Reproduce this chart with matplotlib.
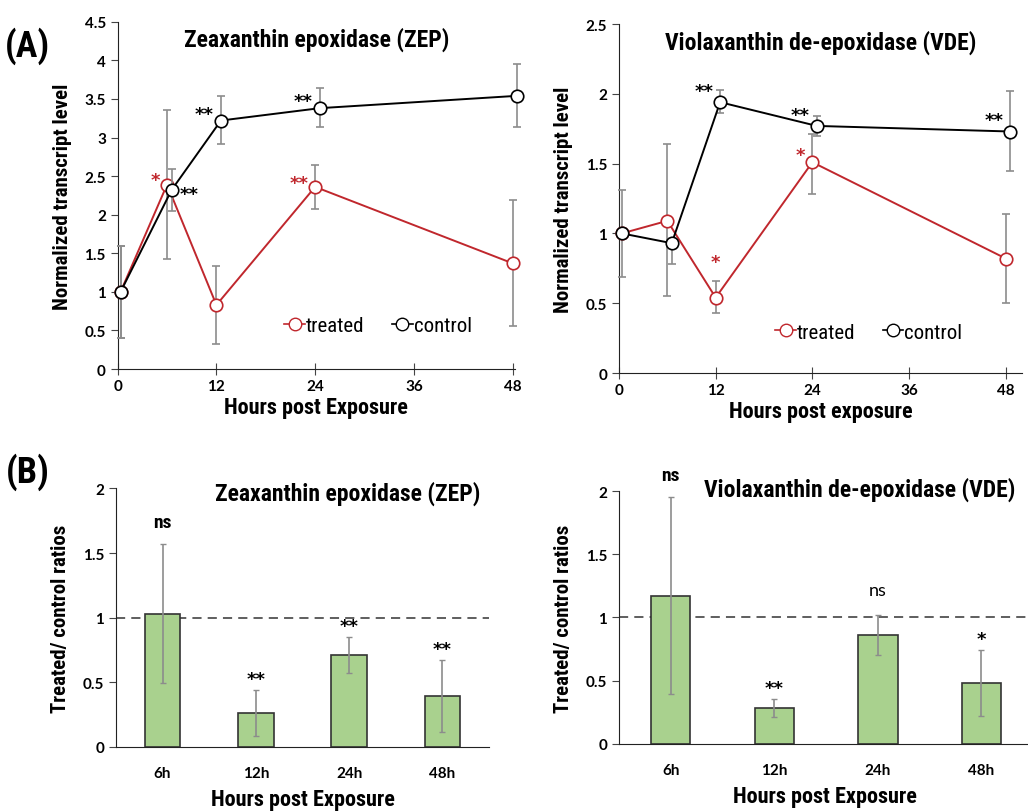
import matplotlib.pyplot as plt
from matplotlib import font_manager as fm
from matplotlib.lines import Line2D

# ---- data ----
hours = [0, 6, 12, 24, 48]

zep_treated = [1.0, 2.39, 0.83, 2.36, 1.37]
zep_treated_lo = [0.6, 0.97, 0.51, 0.28, 0.81]
zep_treated_hi = [0.6, 0.97, 0.51, 0.28, 0.82]
zep_control = [1.0, 2.32, 3.22, 3.38, 3.54]
zep_control_lo = [0.6, 0.27, 0.31, 0.25, 0.41]
zep_control_hi = [0.6, 0.27, 0.32, 0.26, 0.41]

vde_treated = [1.0, 1.09, 0.54, 1.51, 0.82]
vde_treated_lo = [0.31, 0.54, 0.11, 0.23, 0.32]
vde_treated_hi = [0.31, 0.55, 0.12, 0.20, 0.32]
vde_control = [1.0, 0.93, 1.94, 1.77, 1.73]
vde_control_lo = [0.0, 0.15, 0.08, 0.07, 0.28]
vde_control_hi = [0.0, 0.0, 0.09, 0.07, 0.29]

zep_stars_t = ['', '*', '', '**', '']
zep_stars_c = ['', '**', '**', '**', '**']
vde_stars_t = ['', '', '*', '*', '']
vde_stars_c = ['', '', '**', '**', '**']

bar_labels = ['6h', '12h', '24h', '48h']
zep_ratio = [1.03, 0.26, 0.71, 0.39]
zep_ratio_err = [0.54, 0.18, 0.14, 0.28]
zep_ratio_sig = ['ns', '**', '**', '**']
vde_ratio = [1.17, 0.28, 0.86, 0.48]
vde_ratio_err = [0.78, 0.07, 0.16, 0.26]
vde_ratio_sig = ['ns', '**', 'ns', '*']

RED = '#c0272d'
GREEN = '#a9d18e'
GREY = '#8c8c8c'

names = {f.name for f in fm.fontManager.ttflist}
cond_family = 'DejaVu Sans'
for cand in ['Roboto Condensed', 'Open Sans Condensed', 'Liberation Sans Narrow',
             'DejaVu Sans Condensed']:
    if cand in names:
        cond_family = cand
        break
COND = dict(family=cond_family, fontweight='bold')
STAR = dict(family='DejaVu Sans', fontweight='bold', fontsize=13)

plt.rcParams['font.family'] = ['Lato', 'DejaVu Sans']
plt.rcParams['font.weight'] = 'bold'
plt.rcParams['xtick.labelsize'] = 11
plt.rcParams['ytick.labelsize'] = 11

fig = plt.figure(figsize=(10.28, 8.12), dpi=100)


def style_axes(ax):
    for s in ['top', 'right']:
        ax.spines[s].set_visible(False)
    ax.spines['left'].set_color('#222222')
    ax.spines['bottom'].set_color('#222222')
    ax.tick_params(axis='y', direction='out', length=5, color='#444444')


def line_panel(rect, title, treated, t_lo, t_hi, control, c_lo, c_hi,
               ymax, yticks, xmax, xlabel, leg_xy):
    ax = fig.add_axes(rect)
    ht = [h + (0.35 if h == 0 else 0) for h in hours]
    hc = [h + (0.35 if h == 0 else 0.55) for h in hours]
    ax.errorbar(ht, treated, yerr=[t_lo, t_hi], color=RED, ecolor=GREY,
                elinewidth=1.2, capsize=3, lw=1.4, marker='o', ms=9,
                mfc='white', mec=RED, mew=1.2, zorder=3, clip_on=False)
    ax.errorbar(hc, control, yerr=[c_lo, c_hi], color='black', ecolor=GREY,
                elinewidth=1.2, capsize=3, lw=1.4, marker='o', ms=9,
                mfc='white', mec='black', mew=1.2, zorder=4, clip_on=False)
    ax.set_xlim(0, xmax)
    ax.set_ylim(0, ymax)
    ax.set_xticks([0, 12, 24, 36, 48])
    ax.set_yticks(yticks)
    ax.set_yticklabels([('%g' % v) for v in yticks])
    ax.tick_params(axis='x', direction='inout', length=8, color='#444444')
    style_axes(ax)
    ax.text(0.5, 0.95, title, transform=ax.transAxes, ha='center',
            va='center', fontsize=17, **COND)
    ax.set_xlabel(xlabel, fontsize=16, labelpad=2, **COND)
    ax.set_ylabel('Normalized transcript level', fontsize=15, labelpad=9,
                  **COND)
    handles = [Line2D([], [], color=RED, marker='o', ms=9, mfc='white',
                      mec=RED, lw=1.2),
               Line2D([], [], color='black', marker='o', ms=9, mfc='white',
                      mec='black', lw=1.2)]
    ax.legend(handles, ['treated', 'control'], loc='center',
              bbox_to_anchor=leg_xy, ncol=2, frameon=False, handlelength=1.0,
              handletextpad=0.05, columnspacing=1.3,
              prop=dict(family=cond_family, size=15, weight='normal'))
    return ax, ht, hc


# ---- panel A, ZEP ----
ax1, ht, hc = line_panel([0.1145, 0.5443, 0.3865, 0.4277],
                         'Zeaxanthin epoxidase (ZEP)',
                         zep_treated, zep_treated_lo, zep_treated_hi,
                         zep_control, zep_control_lo, zep_control_hi, 4.5,
                         [0, 0.5, 1, 1.5, 2, 2.5, 3, 3.5, 4, 4.5], 48.3,
                         'Hours post Exposure', (0.655, 0.124))
for i, s in enumerate(zep_stars_c):
    if s:
        if i == 1:
            ax1.annotate(s, (hc[i], zep_control[i]), xytext=(6, -3),
                         textcoords='offset points', ha='left', va='center',
                         **STAR)
        else:
            ax1.annotate(s, (hc[i], zep_control[i]), xytext=(-5, 5),
                         textcoords='offset points', ha='right', va='center',
                         **STAR)
for i, s in enumerate(zep_stars_t):
    if s:
        ax1.annotate(s, (ht[i], zep_treated[i]), xytext=(-5, 3),
                     textcoords='offset points', ha='right', va='center',
                     color=RED, **STAR)

# ---- panel A, VDE ----
ax2, ht, hc = line_panel([0.6021, 0.5394, 0.392, 0.4298],
                         'Violaxanthin de-epoxidase (VDE)',
                         vde_treated, vde_treated_lo, vde_treated_hi,
                         vde_control, vde_control_lo, vde_control_hi, 2.5,
                         [0, 0.5, 1, 1.5, 2, 2.5], 50.0,
                         'Hours post exposure', (0.62, 0.117))
for i, s in enumerate(vde_stars_c):
    if s:
        ax2.annotate(s, (hc[i], vde_control[i]), xytext=(-5, 8),
                     textcoords='offset points', ha='right', va='center',
                     **STAR)
for i, s in enumerate(vde_stars_t):
    if s:
        off = (0, 26) if i == 2 else (-5, 5)
        ax2.annotate(s, (ht[i], vde_treated[i]), xytext=off,
                     textcoords='offset points',
                     ha='center' if i == 2 else 'right', va='center',
                     color=RED, **STAR)


# ---- panel B ----
def bar_panel(rect, title, vals, errs, sig, xmax, title_xy, plain_ns):
    ax = fig.add_axes(rect)
    x = list(range(len(bar_labels)))
    ax.bar(x, vals, width=0.38, color=GREEN, edgecolor='#333333', lw=1.2,
           yerr=errs, ecolor=GREY, error_kw=dict(elinewidth=1.2, capsize=2.5),
           zorder=2)
    ax.axhline(1, color='#333333', lw=1.1, ls=(0, (6, 4)), zorder=1)
    ax.set_xlim(-0.5, xmax)
    ax.set_ylim(0, 2)
    ax.set_xticks(x)
    ax.set_xticklabels(bar_labels)
    ax.set_yticks([0, 0.5, 1, 1.5, 2])
    ax.set_yticklabels(['0', '0.5', '1', '1.5', '2'])
    ax.tick_params(axis='x', length=0, pad=14)
    style_axes(ax)
    for i in x:
        top = vals[i] + errs[i]
        s = sig[i]
        if s == 'ns' and plain_ns[i]:
            ax.annotate(s, (i, top), xytext=(0, 18),
                        textcoords='offset points', ha='center', va='center',
                        fontsize=13, fontweight='normal')
        elif s == 'ns':
            ax.annotate(s, (i, top), xytext=(0, 16),
                        textcoords='offset points', ha='center', va='center',
                        fontsize=14, **COND)
        else:
            ax.annotate(s, (i, top), xytext=(0, 8),
                        textcoords='offset points', ha='center', va='center',
                        **STAR)
    ax.text(title_xy[0], title_xy[1], title, transform=ax.transAxes,
            ha='center', va='center', fontsize=17, **COND)
    ax.set_xlabel('Hours post Exposure', fontsize=16, labelpad=6, **COND)
    ax.set_ylabel('Treated/ control ratios', fontsize=15, labelpad=9,
                  **COND)
    return ax


ax3 = bar_panel([0.1128, 0.0792, 0.363, 0.318], 'Zeaxanthin epoxidase (ZEP)',
                zep_ratio, zep_ratio_err, zep_ratio_sig, 3.5, (0.62, 0.985),
                [False] * 4)
ax4 = bar_panel([0.6021, 0.0829, 0.40, 0.311],
                'Violaxanthin de-epoxidase (VDE)',
                vde_ratio, vde_ratio_err, vde_ratio_sig, 3.47, (0.585, 1.01),
                [False, False, True, False])

fig.text(0.027, 0.943, '(A)', fontsize=26, ha='center', va='center', **COND)
fig.text(0.027, 0.419, '(B)', fontsize=26, ha='center', va='center', **COND)

plt.savefig('out.png', dpi=100)
